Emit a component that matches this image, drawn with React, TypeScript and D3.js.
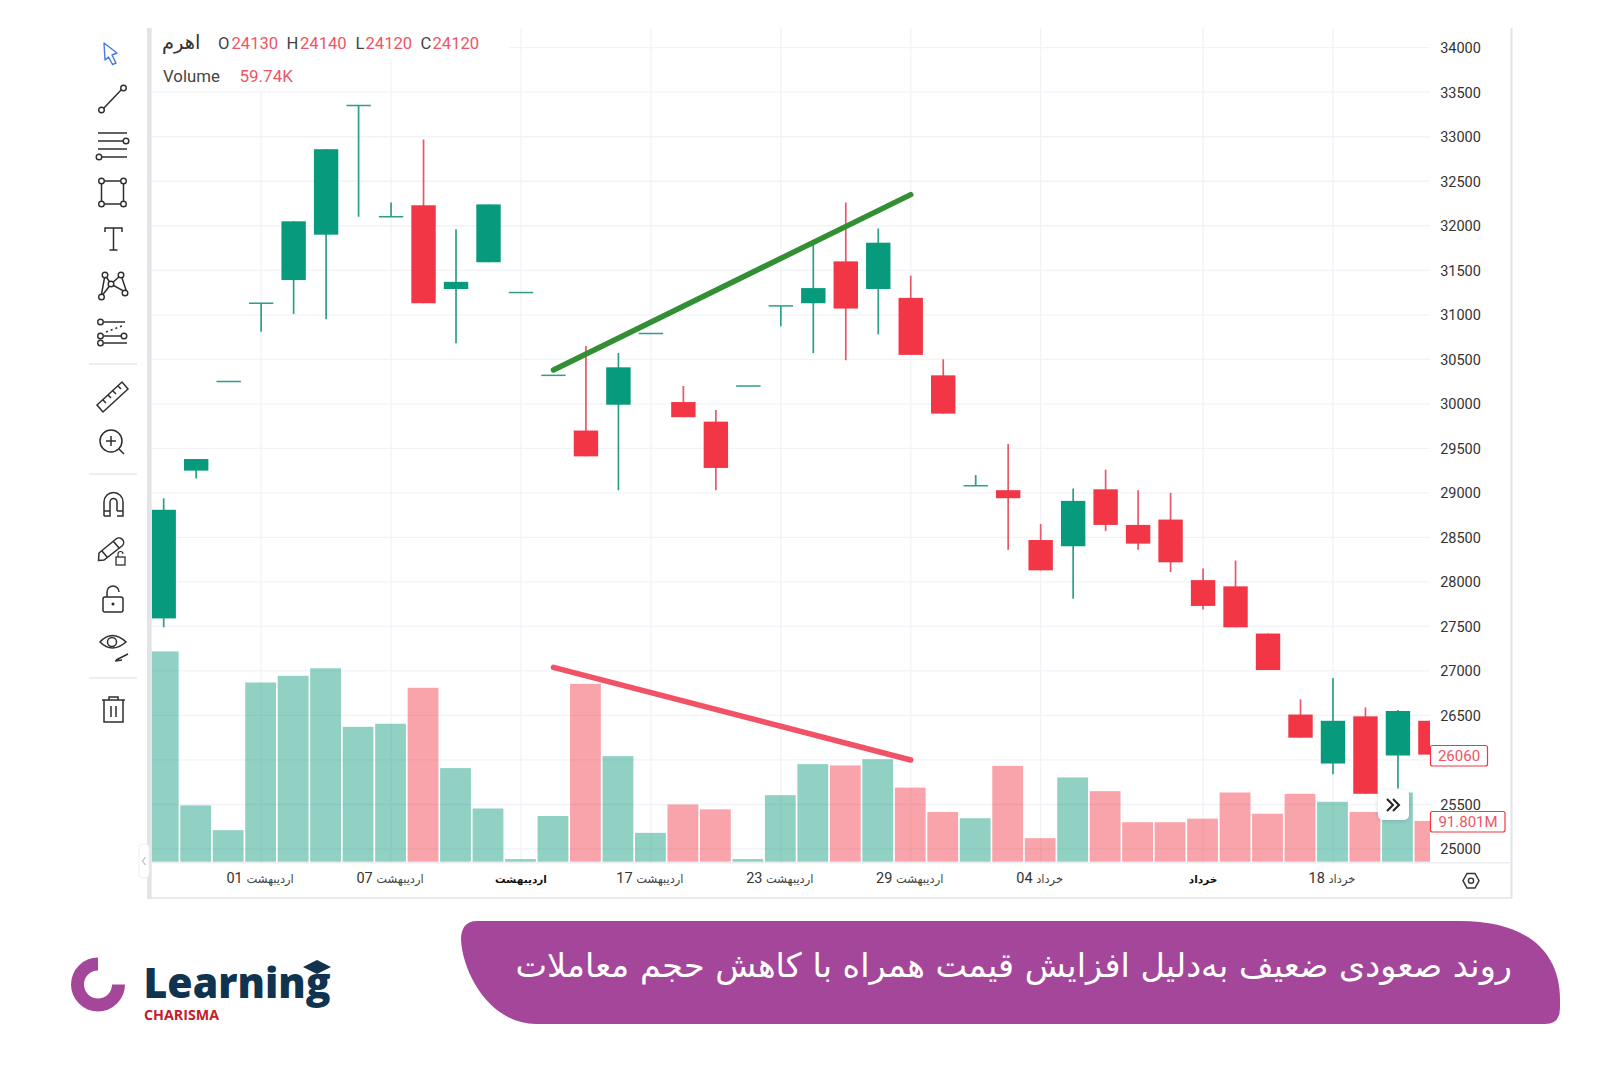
import React from "react";
import * as d3 from "d3";

// ---- data ----
const directions = "GGGGGGGGRGGGGRGGRRGGGRGRRGRRGRRRRRRRGRGR".split("");
const bodyTops = [28810,29380,30250,31130,32050,32860,33350,32100,32230,31370,32240,31250,30320,29700,30410,30790,30020,29800,30200,31100,31300,31600,31810,31190,30320,29080,29030,28470,28910,29040,28640,28700,28020,27950,27420,26510,26440,26490,26550,26440];
const bodyBottoms = [27590,29250,30250,31130,31390,31900,33350,32100,31130,31290,31590,31250,30320,29410,29990,30790,29850,29280,30200,31100,31130,31070,31290,30550,29890,29080,28940,28130,28400,28640,28430,28220,27730,27490,27010,26250,25960,25620,26050,26060];
const highs = [28940,29380,30250,31130,32050,32860,33350,32260,32970,31960,32240,31250,30320,30650,30570,30790,30200,29930,30200,31100,31800,32260,31970,31440,30500,29200,29550,28650,29050,29260,29030,29000,28150,28240,27420,26680,26920,26590,26560,26440];
const lows = [27490,29160,30250,30810,31010,30950,32100,32100,31130,30680,31590,31250,30320,29410,29030,30790,29850,29030,30200,30870,30570,30490,30780,30550,29890,29080,28360,28130,27810,28570,28360,28110,27690,27490,27010,26250,25840,25620,25680,26060];
const volumes = [474,127,71,404,419,436,304,311,392,211,120,6,103,401,238,65,129,118,6,150,220,217,231,167,112,98,216,53,190,159,89,89,97,156,108,153,135,112,156,91.8];
const priceTicks = [25000,25500,26000,26500,27000,27500,28000,28500,29000,29500,30000,30500,31000,31500,32000,32500,33000,33500,34000];
const hiddenPriceTicks = [26000];
const dateTicks = [
  { i: 3, num: "01", month: "اردیبهشت", bold: false },
  { i: 7, num: "07", month: "اردیبهشت", bold: false },
  { i: 11, num: "", month: "اردیبهشت", bold: true },
  { i: 15, num: "17", month: "اردیبهشت", bold: false },
  { i: 19, num: "23", month: "اردیبهشت", bold: false },
  { i: 23, num: "29", month: "اردیبهشت", bold: false },
  { i: 27, num: "04", month: "خرداد", bold: false },
  { i: 32, num: "", month: "خرداد", bold: true },
  { i: 36, num: "18", month: "خرداد", bold: false },
];
const ohlcLabels = [
  { k: "O", v: "24130", kx: 218, vx: 231.5 },
  { k: "H", v: "24140", kx: 286.5, vx: 300 },
  { k: "L", v: "24120", kx: 355.5, vx: 365.5 },
  { k: "C", v: "24120", kx: 420.5, vx: 432.5 },
];
const greenTrendIdx = [12, 23];
const greenTrendPrice = [30380, 32350];
const redTrendIdx = [12, 23];
const redTrendPrice = [27040, 26000];
const title = "روند صعودی ضعیف به‌دلیل افزایش قیمت همراه با کاهش حجم معاملات";

// ---- scales ----
const x = d3.scaleLinear().domain([0, 39]).range([163.7, 163.7 + 39 * 32.48]);
const y = d3.scaleLinear().domain([25000, 34000]).range([849, 47.7]);
const yVol = d3.scaleLinear().domain([0, 474]).range([861.7, 651.4]);

const GREEN = "#089a7d";
const RED = "#f23645";
const GREEN_W = "#2b9f88";
const RED_W = "#e8566a";
const GRID = "#f1f3f8";
const BORDER = "#e2e4ea";
const INK = "#2e2e2e";
const SANS = "Roboto, sans-serif";
const trendLine = d3.line<number>().x((d) => x(d)).curve(d3.curveLinear);

const arcLogo = d3.arc()({ innerRadius: 14, outerRadius: 27, startAngle: Math.PI / 2, endAngle: Math.PI * 2 }) as string;

const icon = { fill: "none", stroke: INK, strokeWidth: 1.5 } as const;
const Dot = ({ cx, cy, r = 2.8 }: { cx: number; cy: number; r?: number }) => (
  <circle cx={cx} cy={cy} r={r} fill="#fff" stroke={INK} strokeWidth={1.4} />
);

function Toolbar() {
  return (
    <g>
      <path d="M104 43 L117 53 L112 55 L116 63 L112.5 64.5 L108.5 57 L105 60 Z" fill="none" stroke="#4a78e8" strokeWidth={1.4} strokeLinejoin="round" />
      <g {...icon}>
        <line x1={102} y1={110} x2={123} y2={88} /><Dot cx={101.5} cy={110} /><Dot cx={123.5} cy={88} />
        <line x1={98} y1={133} x2={127} y2={133} /><line x1={98} y1={141} x2={124} y2={141} /><line x1={98} y1={149} x2={127} y2={149} /><line x1={101} y1={157} x2={127} y2={157} />
        <Dot cx={126} cy={141} /><Dot cx={99} cy={157} />
        <rect x={101.5} y={181} width={22} height={23} /><Dot cx={101.5} cy={181} /><Dot cx={123.5} cy={181} /><Dot cx={101.5} cy={204} /><Dot cx={123.5} cy={204} />
        <path d="M105 232 V228 H122 V232 M113.5 228 V250 M109.5 250 H117.5" />
        <path d="M101 297 L105 275 L111 284 L121 275 L127 293 L111 284 Z" /><Dot cx={101.5} cy={297} /><Dot cx={105} cy={275} /><Dot cx={111} cy={284} /><Dot cx={121} cy={275} /><Dot cx={125} cy={293} />
        <line x1={104} y1={322} x2={125} y2={322} /><line x1={104} y1={336} x2={122} y2={336} /><line x1={104} y1={343} x2={127} y2={343} /><path d="M106 332 L122 326" strokeDasharray="2 3" />
        <Dot cx={100.5} cy={322} /><Dot cx={100.5} cy={336} /><Dot cx={124} cy={336} /><Dot cx={100.5} cy={343} />
        <path d="M97 405 L122 382 L128 389 L103 412 Z M103 400 l3 3 M108 395 l3 3 M113 391 l3 3 M118 386 l3 3" />
        <circle cx={111} cy={441} r={11} /><path d="M119 449 L124 454 M106 441 H116 M111 436 V446" />
        <path d="M104 516 V502 A9.5 9.5 0 0 1 123 502 V516 M104 511 H110 V516 H104 M117 511 H123 V516 H117 M110 511 V502 A3.5 3.5 0 0 1 117 502 V511" />
        <path d="M99 553 L116 539 A3 3 0 0 1 122 546 L104 560 L98.5 560.5 Z M113.5 541.5 L119.5 548.5 M102 551 L107 557" /><rect x={116} y={557} width={9} height={8} strokeWidth={1.3} /><path d="M118 557 V554 A2.5 2.5 0 0 1 123 554" strokeWidth={1.2} />
        <rect x={103} y={597} width={20} height={15} rx={2} /><path d="M107 597 V592 A6 6 0 0 1 119 592" /><circle cx={113} cy={604} r={0.8} />
        <path d="M100 642 Q112 629 126 642 Q112 654 100 642 Z" /><circle cx={112} cy={642} r={4.5} /><path d="M116 660 L128 654 M115 661 L122 660" />
        <path d="M102 700 H125 M109 700 V697 H118 V700 M104 700 V722 H123 V700 M111 706 V717 M116 706 V717" />
      </g>
      {[364, 474, 678].map((yy) => <line key={yy} x1={89} x2={137} y1={yy} y2={yy} stroke="#e8e9ee" strokeWidth={1.5} />)}
    </g>
  );
}

export default function App() {
  return (
    <svg width={1621} height={1081} viewBox="0 0 1621 1081" style={{ position: "absolute", left: 0, top: 0, background: "#fff", display: "block" }}>
      <defs>
        <clipPath id="plot"><rect x={151.7} y={28} width={1278.3} height={834} /></clipPath>
        <filter id="shadow" x="-30%" y="-30%" width="160%" height="160%"><feDropShadow dx={0} dy={1} stdDeviation={2} floodColor="#000" floodOpacity={0.15} /></filter>
      </defs>

      {/* grid */}
      {priceTicks.map((p) => <line key={p} x1={151.7} x2={1430} y1={y(p)} y2={y(p)} stroke={GRID} strokeWidth={1.3} />)}
      {dateTicks.map((d) => <line key={d.i} x1={x(d.i)} x2={x(d.i)} y1={28} y2={862} stroke={GRID} strokeWidth={1.3} />)}
      <rect x={151.7} y={28} width={358} height={32} fill="#fff" />
      <rect x={151.7} y={60} width={148} height={31} fill="#fff" />

      {/* volume + candles */}
      <g clipPath="url(#plot)">
        {volumes.map((v, i) => (
          <rect key={i} x={x(i) - 15.9} width={30.8} y={yVol(v)} height={yVol(0) - yVol(v)} fill={directions[i] === "G" ? GREEN : RED} fillOpacity={0.45} />
        ))}
        {directions.map((dir, i) => {
          const up = dir === "G";
          const top = y(bodyTops[i]);
          const bot = y(bodyBottoms[i]);
          return (
            <g key={i}>
              <line x1={x(i)} x2={x(i)} y1={y(highs[i])} y2={y(lows[i])} stroke={up ? GREEN_W : RED_W} strokeWidth={1.7} />
              {bot - top < 1 ? (
                <line x1={x(i) - 12.2} x2={x(i) + 12.2} y1={top} y2={top} stroke={GREEN_W} strokeWidth={1.5} />
              ) : (
                <rect x={x(i) - 12.2} width={24.4} y={top} height={bot - top} fill={up ? GREEN : RED} />
              )}
            </g>
          );
        })}
      </g>

      {/* trend lines */}
      <path d={trendLine.y((_, k) => y(greenTrendPrice[k]))(greenTrendIdx) as string} stroke="#328f34" strokeWidth={5.5} strokeLinecap="round" fill="none" />
      <path d={trendLine.y((_, k) => y(redTrendPrice[k]))(redTrendIdx) as string} stroke="#f25265" strokeWidth={5.5} strokeLinecap="round" fill="none" />

      {/* frame */}
      <rect x={147} y={28} width={4.7} height={871} fill={BORDER} />
      <rect x={1510.5} y={28} width={2} height={870} fill={BORDER} />
      <line x1={151} x2={1512} y1={898} y2={898} stroke={BORDER} strokeWidth={1.4} />
      <line x1={151} x2={1510} y1={862.7} y2={862.7} stroke="#eceef2" strokeWidth={1.4} />

      {/* price axis */}
      {priceTicks.filter((p) => !hiddenPriceTicks.includes(p)).map((p) => (
        <text key={p} x={1460.5} y={y(p)} dy="0.37em" textAnchor="middle" fontFamily={SANS} fontSize={14.5} fill="#333">{p}</text>
      ))}
      <rect x={1430.5} y={745.5} width={57} height={20.5} rx={2} fill="#fff" stroke={RED} strokeWidth={1.2} />
      <text x={1459} y={755.8} dy="0.36em" textAnchor="middle" fontFamily={SANS} fontSize={15} fill="#ee5566">26060</text>
      <rect x={1430.5} y={811.5} width={74.5} height={20.5} rx={2} fill="#fff" stroke={RED} strokeWidth={1.2} />
      <text x={1468} y={821.8} dy="0.36em" textAnchor="middle" fontFamily={SANS} fontSize={15} fill="#ee5566">91.801M</text>

      {/* time axis */}
      {dateTicks.map((d) => (
        <text key={d.i} x={x(d.i) - (d.num ? 1 : 0)} y={882.5} textAnchor="middle" direction="ltr" fill="#333" fontFamily={SANS}>
          {d.num ? <tspan fontSize={14.5}>{d.num} </tspan> : null}
          <tspan fontFamily="DejaVu Sans" fontSize={d.bold ? 10.5 : 11.5} fontWeight={d.bold ? 700 : 400} fill={d.bold ? "#111" : "#444"}>{d.month}</tspan>
        </text>
      ))}
      <path d="M1463 880.7 L1467 873.5 H1475 L1479 880.7 L1475 888 H1467 Z" fill="none" stroke="#333" strokeWidth={1.4} />
      <circle cx={1471} cy={880.7} r={2.6} fill="none" stroke="#333" strokeWidth={1.4} />

      {/* legend */}
      <text x={200.5} y={49} textAnchor="end" fontFamily="DejaVu Sans" fontSize={19.5} fill="#333">اهرم</text>
      {ohlcLabels.map((o) => (
        <g key={o.k} fontFamily={SANS} fontSize={16.6}>
          <text x={o.kx} y={48.5} fill="#444">{o.k}</text>
          <text x={o.vx} y={48.5} fill="#ee5566">{o.v}</text>
        </g>
      ))}
      <text x={163} y={81.5} fontFamily={SANS} fontSize={16.8} fill="#444">Volume</text>
      <text x={239.5} y={81.5} fontFamily={SANS} fontSize={17} fill="#ee5566">59.74K</text>

      {/* widgets */}
      <rect x={1378} y={790} width={31} height={30} rx={5} fill="#fff" filter="url(#shadow)" />
      <path d="M1388 799 L1394 805 L1388 811 M1394 799 L1400 805 L1394 811" transform="translate(-1 0)" fill="none" stroke="#222" strokeWidth={2} />
      <rect x={139} y={844} width={10} height={34} rx={4} fill="#fff" stroke="#eef0f4" />
      <path d="M145.5 857 L142.5 861 L145.5 865" fill="none" stroke="#bbb" strokeWidth={1.2} />
      <Toolbar />

      {/* footer banner */}
      <path d="M477 921 H1460 C1525 921 1560 950 1560 1000 V1008 Q1560 1024 1545 1024 H536 C491 1024 463 975 461 940 Q461 921 477 921 Z" fill="#a4479a" />
      <text x={1512} y={977} textAnchor="start" direction="rtl" fontFamily="DejaVu Sans" fontSize={33.5} fill="#fff">{title}</text>

      {/* logo */}
      <path d={arcLogo} transform="translate(98 984.5)" fill="#a4479a" />
      <text x={143.5} y={998} fontFamily="Open Sans" fontWeight={800} fontSize={42} fill="#10344f" textLength={187} lengthAdjust="spacingAndGlyphs">Learning</text>
      <path d="M303 967 L317 960 L331 967 L317 974 Z" fill="#10344f" />
      <text x={144} y={1020} fontFamily="Open Sans" fontWeight={700} fontSize={14} fill="#c4202a" textLength={75} lengthAdjust="spacingAndGlyphs">CHARISMA</text>
    </svg>
  );
}
